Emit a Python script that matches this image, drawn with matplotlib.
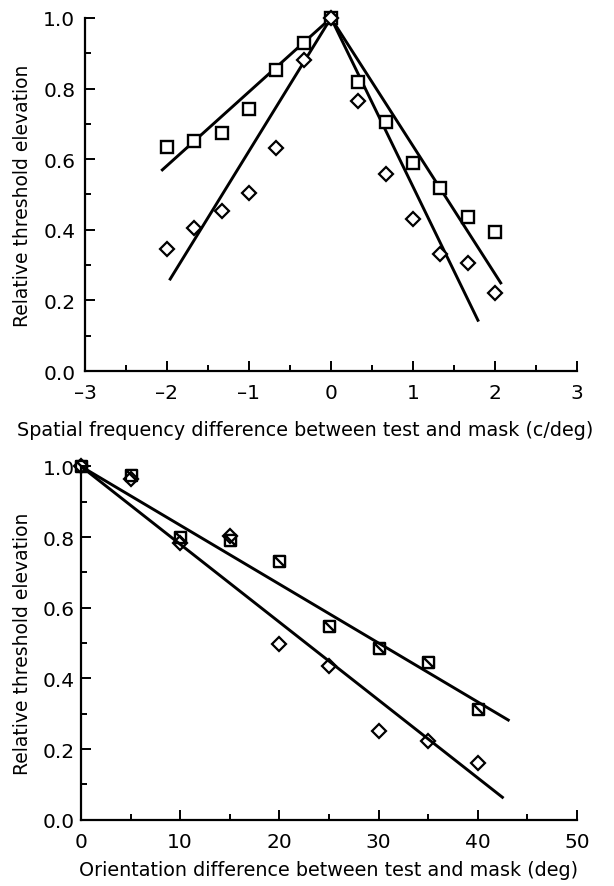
import numpy as np
import matplotlib.pyplot as plt
from matplotlib.path import Path

plt.rcParams['font.family'] = ['DejaVu Sans']

# Painel superior: diferenca de frequencia espacial (c/deg)
sf_x = [-2.0, -1.67, -1.33, -1.0, -0.67, -0.33, 0.0, 0.33, 0.67, 1.0, 1.33, 1.67, 2.0]
sf_square = [0.635, 0.652, 0.674, 0.742, 0.854, 0.930, 1.0, 0.820, 0.706, 0.588, 0.519, 0.436, 0.394]
sf_diamond = [0.345, 0.405, 0.453, 0.505, 0.633, 0.881, 1.0, 0.766, 0.559, 0.430, 0.331, 0.305, 0.222]

# retas ajustadas (extremos de cada segmento)
sf_fit_sq_left = ([-2.07, 0.0], [0.567, 1.0])
sf_fit_di_left = ([-1.97, 0.0], [0.257, 1.0])
sf_fit_sq_right = ([0.0, 2.08], [1.0, 0.246])
sf_fit_di_right = ([0.0, 1.80], [1.0, 0.140])

# Painel inferior: diferenca de orientacao (deg)
ori_x = [0, 5, 10, 15, 20, 25, 30, 35, 40]
ori_square = [1.0, 0.975, 0.80, 0.792, 0.731, 0.547, 0.485, 0.445, 0.313]
ori_diamond = [1.0, 0.965, 0.783, 0.803, 0.496, 0.436, 0.251, 0.223, 0.160]

ori_fit_sq = ([0.0, 43.2], [1.0, 0.280])
ori_fit_di = ([0.0, 42.6], [1.0, 0.061])

ylabel = 'Relative threshold elevation'

# quadrado com diagonal (marcador do painel inferior)
sq_slash = Path([(-1, -1), (-1, 1), (1, 1), (1, -1), (-1, -1), (-1, 1), (1, -1)],
                [Path.MOVETO, Path.LINETO, Path.LINETO, Path.LINETO, Path.CLOSEPOLY,
                 Path.MOVETO, Path.LINETO])

fig = plt.figure(figsize=(6.14, 8.87), dpi=100)
ax1 = fig.add_axes([0.1384, 0.5806, 0.8013, 0.398])
ax2 = fig.add_axes([0.1319, 0.0747, 0.8078, 0.3984])


def estilo(ax, ypad):
    for s in ['top', 'right']:
        ax.spines[s].set_visible(False)
    for s in ['left', 'bottom']:
        ax.spines[s].set_linewidth(1.6)
    ax.tick_params(which='both', direction='in', width=1.4, labelsize=14.5)
    ax.tick_params(axis='y', pad=ypad)
    ax.tick_params(axis='x', pad=8.5)
    ax.tick_params(which='major', length=7)
    ax.tick_params(which='minor', length=4)
    ax.set_ylim(0, 1.0)
    ax.set_yticks(np.arange(0, 1.01, 0.2))
    ax.set_yticks(np.arange(0.1, 1.0, 0.2), minor=True)
    ax.yaxis.set_major_formatter(plt.FormatStrFormatter('%.1f'))
    ax.set_ylabel(ylabel, fontsize=13.5, labelpad=8)


estilo(ax1, 7)
ax1.set_xlim(-3, 3)
ax1.set_xticks(range(-3, 4))
ax1.set_xticklabels(['\u20133', '\u20132', '\u20131', '0', '1', '2', '3'])
ax1.set_xticks(np.arange(-2.5, 3, 1.0), minor=True)
ax1.set_xlabel('Spatial frequency difference between test and mask (c/deg)', fontsize=13.8, labelpad=13)
# o rotulo fica deslocado para a esquerda, centrado na figura
ax1.xaxis.label.set_x(0.447)

for xs, ys in [sf_fit_sq_left, sf_fit_di_left, sf_fit_sq_right, sf_fit_di_right]:
    ax1.plot(xs, ys, color='black', lw=2.1, solid_capstyle='butt', clip_on=False)
ax1.plot(sf_x, sf_square, ls='none', marker='s', ms=8, mfc='white', mec='black', mew=1.7, clip_on=False)
ax1.plot(sf_x, sf_diamond, ls='none', marker='D', ms=7.3, mfc='white', mec='black', mew=1.6, clip_on=False)

estilo(ax2, 4.5)
ax2.set_xlim(0, 50)
ax2.set_xticks(range(0, 51, 10))
ax2.set_xticks(range(5, 50, 10), minor=True)
ax2.set_xlabel('Orientation difference between test and mask (deg)', fontsize=13.8, labelpad=7)

for xs, ys in [ori_fit_sq, ori_fit_di]:
    ax2.plot(xs, ys, color='black', lw=2.1, solid_capstyle='butt', clip_on=False)
ax2.plot(ori_x, ori_square, ls='none', marker=sq_slash, ms=8, mfc='none', mec='black', mew=1.7, clip_on=False)
ax2.plot(ori_x, ori_diamond, ls='none', marker='D', ms=7.3, mfc='none', mec='black', mew=1.6, clip_on=False)

fig.savefig('out.png', dpi=100)
